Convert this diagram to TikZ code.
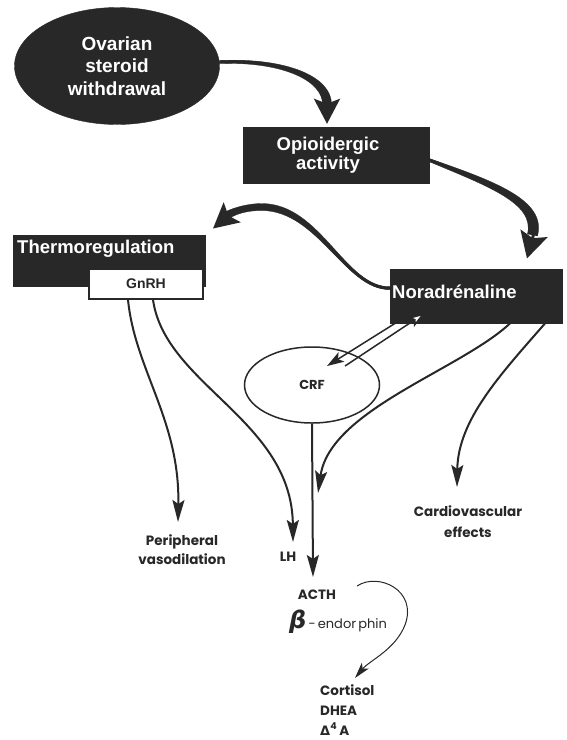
\documentclass[tikz,border=0pt]{standalone}
\usepackage{fontspec}
\setmainfont{Liberation Sans}
\newfontfamily\geo{Poppins}
\newfontfamily\dejav{DejaVu Sans}
\usetikzlibrary{shapes.geometric,arrows.meta}
\definecolor{ink}{RGB}{40,40,40}
\begin{document}
\begin{tikzpicture}[x=1pt,y=-1pt,
  darkbox/.style={draw=ink,fill=ink,text=white,font=\bfseries\fontsize{18}{19}\selectfont,inner sep=0pt},
  boxlabel/.style={text=white,font=\bfseries\fontsize{18.5}{19}\selectfont,inner sep=0pt},
  lbl/.style={font=\geo\bfseries\fontsize{13.5}{19}\selectfont,align=center,inner sep=0pt,text=ink},
  taper/.style={fill=ink,draw=ink,line width=0.3pt},
  big arrow/.style={draw=ink,line width=3pt,-{Stealth[length=25pt,width=26pt,inset=5pt]}},
  thin arrow/.style={draw=ink,line width=2pt,-{Stealth[length=22pt,width=12pt,inset=4pt]}},
  hair arrow/.style={draw=ink,line width=1pt,-{Stealth[length=16pt,width=9pt,inset=4pt]}}]
\useasboundingbox (0,0) rectangle (567,740);
\fill[white] (0,0) rectangle (567,740);

% nodes
\node[ellipse,fill=ink,draw=ink,text=white,minimum width=205pt,minimum height=117pt,align=center,
  font=\bfseries\fontsize{19}{22.5}\selectfont,inner sep=0pt] (ovar) at (117,66) {Ovarian\\steroid\\withdrawal};
\node[darkbox,minimum width=186pt,minimum height=56pt,align=center,font=\bfseries\fontsize{18.5}{19}\selectfont] (opi) at (336,155) {Opioidergic\hspace*{16pt}\\activity\hspace*{16pt}};
\node[darkbox,minimum width=172pt,minimum height=54pt,anchor=north west] (nor) at (390,269) {};
\node[boxlabel,anchor=west] (nortxt) at (392,292) {Noradrénaline};
\node[darkbox,minimum width=192pt,minimum height=51pt,anchor=north west] (thermo) at (13,235) {};
\node[boxlabel,anchor=west] (thermotxt) at (17,249) {Thermoregulation};
\node[draw=ink,fill=white,line width=1.3pt,minimum width=114pt,minimum height=30pt,
  font=\bfseries\fontsize{14}{14}\selectfont,text=ink] (gnrh) at (146,284) {GnRH};
\node[ellipse,draw=ink,line width=1.5pt,minimum width=135pt,minimum height=76pt,
  font=\geo\bfseries\fontsize{13}{14}\selectfont,text=ink] (crf) at (312,385) {\raisebox{-10pt}{CRF}};

\node[lbl] (periph) at (182,550) {Peripheral\\vasodilation};
\node[lbl] (lh) at (288,557) {LH};
\node[lbl,font=\geo\bfseries\fontsize{13.5}{21}\selectfont] (card) at (468,522) {Cardiovascular\\effects};
\node[lbl] (acth) at (317,595) {ACTH};
\node[inner sep=0pt,anchor=west,text=ink] (beta) at (289,622)
  {{\dejav\bfseries\itshape\fontsize{24}{24}\selectfont β}{\geo\fontsize{13}{14}\selectfont \,-\,endor\,phin}};
\node[lbl,align=left,anchor=north west,font=\geo\bfseries\fontsize{13.5}{20}\selectfont] (cort) at (320,684)
  {Cortisol\\DHEA\\{\dejav\bfseries\fontsize{13}{14}\selectfont Δ}\textsuperscript{4}\,A};

% coordinates
\coordinate (nc) at (313,577);
\coordinate (lhtip) at (293,542);
\coordinate (ptip) at (178,522);
\coordinate (ctip) at (457,487);
\coordinate (jtip) at (318,493);

% thick arrows (centre connector + tapered body)
% ovarian -> opioidergic
\draw[big arrow,shorten >=3pt] (ovar.east) ++(0,-4) .. controls (288,59) and (327,80) .. (opi.north -| 327,0);
\fill[taper] (ovar.east) ++(0,-5.5) .. controls (290,57.5) and (331.5,78) .. (331.5,104)
   -- (322.5,104) .. controls (322.5,82) and (286,61.5) .. (219.5,63.5) -- cycle;
% opioidergic -> noradrenaline
\draw[big arrow,-{Stealth[length=26pt,width=28pt,inset=5pt]},shorten >=11pt] (opi.east) ++(0,5)
   .. controls (490,183) and (542,205) .. (nor.north -| 524,0);
\fill[taper] (opi.east) ++(0,3.5) .. controls (494,181) and (547,200) .. (537.5,236)
   -- (527.5,234) .. controls (535,203) and (487,186) .. (429,161.5) -- cycle;
% noradrenaline -> thermoregulation
\draw[big arrow,shorten >=10pt] (nor.west) ++(0,-8) .. controls (345,289) and (320,208) .. (262,207)
   .. controls (247,207) and (236,209) .. (thermo.north east);
\fill[taper] (nor.west) ++(0,-9.5) .. controls (345,287.5) and (321,204) .. (262,203.5)
   .. controls (248,203.5) and (234,207.5) .. (225,212)
   -- (230,218) .. controls (238,213) and (249,210.5) .. (262,210.5)
   .. controls (318,211) and (345,289.5) .. (390,289.5) -- cycle;

% thin arrows
\draw[thin arrow] (gnrh.south -| 128,0) .. controls (135,370) and (180,420) .. (ptip);
\draw[thin arrow] (gnrh.south -| 153,0) .. controls (165,385) and (292,420) .. (lhtip);
\draw[thin arrow] (crf.south) -- (nc);
\draw[thin arrow] (nor.south -| 510,0) .. controls (460,370) and (330,410) .. (jtip);
\draw[thin arrow] (nor.south -| 545,0) .. controls (500,375) and (458,420) .. (ctip);

% double arrows between CRF and Noradrenaline
\draw[draw=ink,line width=1.5pt,-{Stealth[length=17pt,width=11pt,inset=4pt]}] (nor.south -| 395,0) -- (327,366);
\draw[draw=ink,line width=1.5pt,-{Stealth[length=17pt,width=11pt,inset=4pt,fill=white]}] (345,366) -- (425,313);

% ACTH to cortisol
\draw[hair arrow] (357,586) .. controls (378,572) and (418,590) .. (405,625)
   .. controls (395,650) and (370,660) .. (355,678);
\end{tikzpicture}
\end{document}
